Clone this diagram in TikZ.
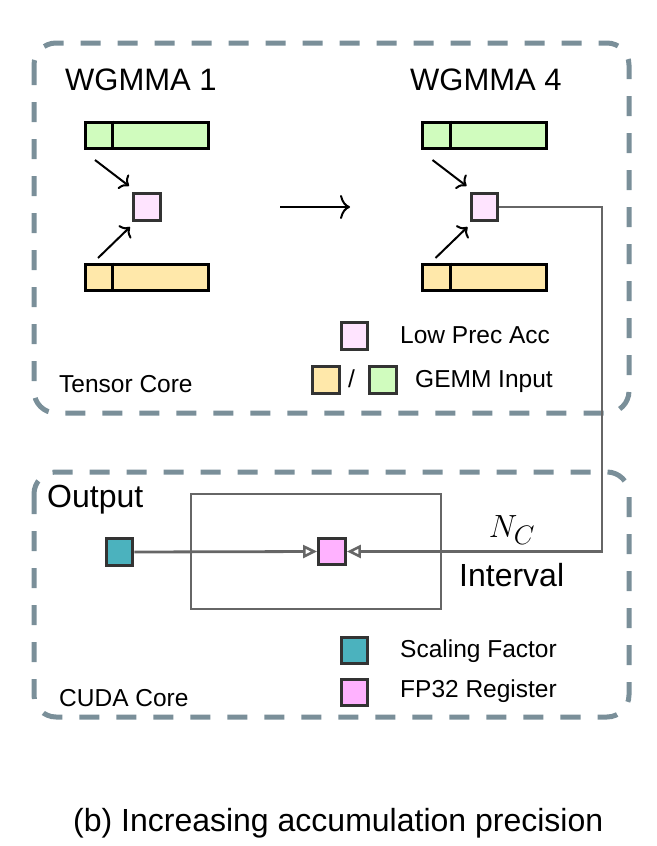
\documentclass[tikz,border=0pt]{standalone}
\usepackage{fontspec}
\setmainfont{Liberation Sans}
\usetikzlibrary{arrows.meta}
\definecolor{framec}{RGB}{122,143,153}
\definecolor{greenc}{RGB}{208,252,190}
\definecolor{yellowc}{RGB}{255,232,170}
\definecolor{lowpink}{RGB}{255,228,255}
\definecolor{tealc}{RGB}{75,178,190}
\definecolor{fppink}{RGB}{255,178,255}
\definecolor{sqborder}{RGB}{51,51,51}
\definecolor{glinec}{RGB}{102,102,102}
\newcommand\szbig{\fontsize{31}{36}\selectfont}
\newcommand\szmid{\fontsize{24.5}{29}\selectfont}
\newcommand\szcap{\fontsize{32}{38}\selectfont}
\newcommand\szmath{\fontsize{24.88}{30}\selectfont}
\begin{document}
\begin{tikzpicture}[x=1pt,y=-1pt,
  frame/.style={draw=framec, line width=5pt, dash pattern=on 20pt off 17pt, rounded corners=22pt},
  bar/.style={draw=black, line width=3.2pt, minimum width=123.5pt, minimum height=26.5pt, inner sep=0pt},
  sq/.style={draw=sqborder, line width=3.4pt, minimum size=26.5pt, inner sep=0pt},
  divider/.style={draw=black, line width=3.2pt},
  blackarr/.style={draw=black, line width=2pt, -{To[length=8pt,width=18pt]}},
  bigarr/.style={draw=black, line width=2pt, -{To[length=10pt,width=24pt]}},
  gline/.style={draw=glinec, line width=2.8pt},
  garr/.style={gline, -{Triangle[open,length=14pt,width=13pt,line width=2.6pt]}},
  lbl/.style={inner sep=0pt, anchor=base west},
]
\useasboundingbox (0,0) rectangle (656,846);

% frames
\draw[frame] (34,43) rectangle (629,413);
\draw[frame] (34,472) rectangle (629,717);

% WGMMA 1
\node[lbl] (t1) at (65,90) {\szbig WGMMA 1};
\node[bar, fill=greenc] (g1) at (147,135.5) {};
\node[bar, fill=yellowc] (y1) at (147,277.5) {};
\draw[divider] ([xshift=29pt]g1.north west) -- ([xshift=29pt]g1.south west);
\draw[divider] ([xshift=29pt]y1.north west) -- ([xshift=29pt]y1.south west);
\node[sq, fill=lowpink] (p1) at (147,207) {};
\coordinate (a1s) at (95,160);
\coordinate (a1e) at (129,186);
\coordinate (b1s) at (98,258);
\coordinate (b1e) at (130,227);
\draw[blackarr] (a1s) -- (a1e);
\draw[blackarr] (b1s) -- (b1e);

% middle arrow
\coordinate (m1) at (280,207);
\coordinate (m2) at (350,207);
\draw[bigarr] (m1) -- (m2);

% WGMMA 4
\node[lbl] (t4) at (410,90) {\szbig WGMMA 4};
\node[bar, fill=greenc] (g4) at (484.5,135.5) {};
\node[bar, fill=yellowc] (y4) at (484.5,277.5) {};
\draw[divider] ([xshift=29pt]g4.north west) -- ([xshift=29pt]g4.south west);
\draw[divider] ([xshift=29pt]y4.north west) -- ([xshift=29pt]y4.south west);
\node[sq, fill=lowpink] (p4) at (484.5,207) {};
\coordinate (a4s) at (432.5,160);
\coordinate (a4e) at (466.5,186);
\coordinate (b4s) at (435.5,258);
\coordinate (b4e) at (467.5,227);
\draw[blackarr] (a4s) -- (a4e);
\draw[blackarr] (b4s) -- (b4e);

% tensor core legend
\node[sq, fill=lowpink] (lp) at (354.5,336) {};
\node[lbl] (lpt) at (400,343) {\szmid Low Prec Acc};
\node[sq, fill=yellowc] (ly) at (326,380) {};
\node[lbl] (slash) at (348,387) {\szmid /};
\node[sq, fill=greenc] (lg) at (383,380) {};
\node[lbl] (lgt) at (415,387) {\szmid GEMM Input};
\node[lbl] (tc) at (59,392) {\szmid Tensor Core};

% CUDA core
\node[lbl] (out) at (47,507) {\szcap Output};
\node[draw=glinec, line width=2.6pt, minimum width=250pt, minimum height=115pt, inner sep=0pt] (win) at (316,551.5) {};
\node[sq, fill=tealc] (sf) at (119.5,552) {};
\node[sq, fill=fppink] (fp) at (332,551.5) {};
\draw[garr] (sf.east) -- (fp.west);
\coordinate (c1) at (602,551.5);
\draw[garr] (p4.east) -| (c1) -- (fp.east);
\node[inner sep=0pt, anchor=base, scale=1.29] (nc) at (512,537) {\szmath $N_C$};
\node[lbl] (iv) at (459,586) {\szcap Interval};

% CUDA legend
\node[sq, fill=tealc] (lsf) at (354.5,650.5) {};
\node[lbl] (lsft) at (400,657) {\szmid Scaling Factor};
\node[sq, fill=fppink] (lfp) at (354.5,692.5) {};
\node[lbl] (lfpt) at (400,697) {\szmid FP32 Register};
\node[lbl] (cc) at (59,706) {\szmid CUDA Core};

% caption
\node[lbl] (cap) at (73,831) {\szcap (b) Increasing accumulation precision};
\end{tikzpicture}
\end{document}
